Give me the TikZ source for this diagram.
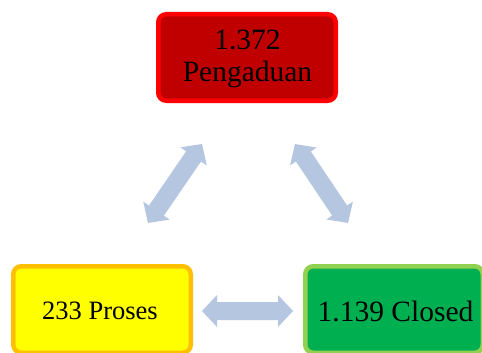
\documentclass[tikz,border=0pt]{standalone}
\usepackage{fontspec}
\setmainfont{Liberation Serif}
\definecolor{arrowblue}{HTML}{B4C6E0}
\definecolor{topfill}{HTML}{C00000}
\definecolor{topline}{HTML}{FF0000}
\definecolor{leftfill}{HTML}{FFFF00}
\definecolor{leftline}{HTML}{FFC000}
\definecolor{rightfill}{HTML}{00B050}
\definecolor{rightline}{HTML}{92D050}
\tikzset{
  box/.style={rectangle, rounded corners=8pt, line width=4.5pt, minimum width=177.5pt, minimum height=86.5pt, inner sep=0pt, align=center, font=\fontsize{29.5}{32}\selectfont, text=black},
  boxtext/.style={inner sep=0pt, align=center, text=black},
  dblarr/.style={fill=arrowblue, draw=none}
}
\newcommand\blockarrow[4]{% cx, cy, length, angle
  \begin{scope}[shift={(#1,#2)}, rotate=#4]
    \pgfmathsetmacro\hh{#3/2}
    \fill[dblarr] (-\hh,0) -- (-\hh+15,16) -- (-\hh+15,9) -- (\hh-15,9) -- (\hh-15,16) -- (\hh,0)
      -- (\hh-15,-16) -- (\hh-15,-9) -- (-\hh+15,-9) -- (-\hh+15,-16) -- cycle;
  \end{scope}}
\begin{document}
\begin{tikzpicture}[x=1pt, y=-1pt]
  \useasboundingbox (0,0) rectangle (482,353);
  \clip (0,0) rectangle (482,353);
  \fill[white] (0,0) rectangle (482,353);
  \node[box, fill=topfill, draw=topline] (top) at (247,57.5) {};
  \node[boxtext, font=\fontsize{29.5}{32}\selectfont] (toptext) at (247.5,59) {1.372\\Pengaduan};
  \node[box, fill=leftfill, draw=leftline] (left) at (102,309.5) {};
  \node[boxtext, font=\fontsize{26.5}{30}\selectfont] (lefttext) at (100,311) {233 Proses};
  \node[box, fill=rightfill, draw=rightline] (right) at (394,309.5) {};
  \node[boxtext, font=\fontsize{29.5}{32}\selectfont] (righttext) at (395.5,311) {1.139 Closed};
  \blockarrow{175}{183.5}{95.7}{55.6}
  \blockarrow{321.5}{183.5}{95.1}{-56.1}
  \blockarrow{247.5}{311}{91}{0}
\end{tikzpicture}
\end{document}
